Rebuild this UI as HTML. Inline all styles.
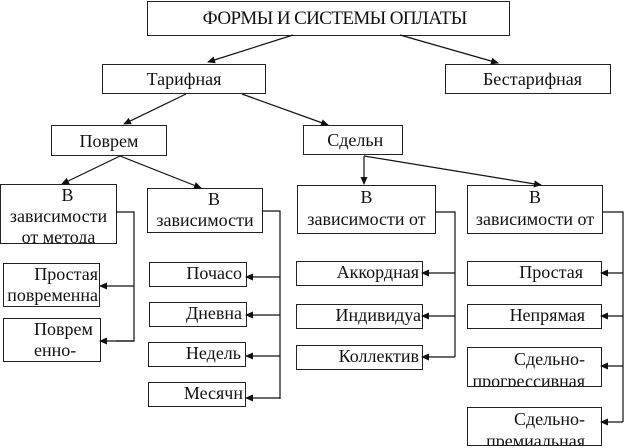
<!DOCTYPE html>
<html><head><meta charset="utf-8"><style>
body{margin:0;width:626px;height:448px;background:#fff;position:relative;overflow:hidden;font-family:"Liberation Serif","DejaVu Serif",serif;color:#111}
.b{position:absolute;border:1px solid #222;box-sizing:border-box;background:#fff;overflow:hidden;font-size:18px;line-height:21px;white-space:nowrap}
.r{text-align:right;padding-right:4px}
.c{text-align:center}
svg{position:absolute;left:0;top:0;z-index:2}
</style></head><body>
<svg width="626" height="448">
<defs><marker id="a" markerWidth="8" markerHeight="8" refX="7" refY="4" orient="auto" markerUnits="userSpaceOnUse"><path d="M0,0.5 L8,4 L0,7.5z" fill="#111"/></marker></defs>
<g stroke="#111" stroke-width="1.2" fill="none">
<line x1="293" y1="35" x2="208" y2="62" marker-end="url(#a)"/>
<line x1="400" y1="35" x2="498" y2="63" marker-end="url(#a)"/>
<line x1="186" y1="94" x2="124" y2="124" marker-end="url(#a)"/>
<line x1="242" y1="94" x2="328" y2="125" marker-end="url(#a)"/>
<line x1="120" y1="156" x2="62" y2="184" marker-end="url(#a)"/>
<line x1="120" y1="156" x2="201" y2="188" marker-end="url(#a)"/>
<line x1="364" y1="156" x2="364" y2="184" marker-end="url(#a)"/>
<line x1="364" y1="156" x2="541" y2="185" marker-end="url(#a)"/>
<polyline points="116,212 134,212 134,341 116,341"/>
<line x1="134" y1="286" x2="100" y2="286" marker-end="url(#a)"/>
<line x1="134" y1="341" x2="100" y2="341" marker-end="url(#a)"/>
<polyline points="262,211 280,211 280,399"/>
<line x1="280" y1="277" x2="246" y2="277" marker-end="url(#a)"/>
<line x1="280" y1="315" x2="246" y2="315" marker-end="url(#a)"/>
<line x1="280" y1="356" x2="246" y2="356" marker-end="url(#a)"/>
<line x1="280" y1="398" x2="246" y2="398" marker-end="url(#a)"/>
<polyline points="435,212 455,212 455,357"/>
<line x1="455" y1="273" x2="422" y2="273" marker-end="url(#a)"/>
<line x1="455" y1="316" x2="422" y2="316" marker-end="url(#a)"/>
<line x1="455" y1="357" x2="422" y2="357" marker-end="url(#a)"/>
<polyline points="602,212 623,212 623,422"/>
<line x1="623" y1="273" x2="601" y2="273" marker-end="url(#a)"/>
<line x1="623" y1="316" x2="601" y2="316" marker-end="url(#a)"/>
<line x1="623" y1="366" x2="601" y2="366" marker-end="url(#a)"/>
<line x1="623" y1="422" x2="601" y2="422" marker-end="url(#a)"/>
</g></svg>
<div class="b c" style="left:147px;top:1px;width:363px;height:35px;line-height:33px;font-size:19px;letter-spacing:-0.6px">&nbsp;&nbsp;&nbsp;ФОРМЫ И СИСТЕМЫ ОПЛАТЫ</div>
<div class="b c" style="left:102px;top:64px;width:164px;height:30px;line-height:29px">Тарифная</div>
<div class="b c" style="left:445px;top:64px;width:166px;height:30px;line-height:29px">&nbsp;&nbsp;Бестарифная</div>
<div class="b c" style="left:51px;top:125px;width:116px;height:31px;line-height:30px">Поврем</div>
<div class="b c" style="left:303px;top:125px;width:100px;height:30px;line-height:29px">&nbsp;Сдельн</div>
<div class="b c" style="left:0;top:184px;width:117px;height:60px;line-height:21px">&nbsp;&nbsp;&nbsp;&nbsp;В<br>зависимости<br>от метода</div>
<div class="b c" style="left:147px;top:188px;width:116px;height:45px">&nbsp;&nbsp;&nbsp;&nbsp;В<br>зависимости</div>
<div class="b c" style="left:297px;top:185px;width:139px;height:49px;line-height:22px">В<br>зависимости от</div>
<div class="b c" style="left:467px;top:185px;width:136px;height:49px;line-height:22px">В<br>зависимости от</div>
<div class="b r" style="left:3px;top:263px;width:97px;height:44px;padding-right:1px">Простая<br>повременна</div>
<div class="b r" style="left:3px;top:318px;width:98px;height:44px;padding-right:2px;text-align:left;padding-left:30px">Поврем<br>енно-</div>
<div class="b r" style="left:149px;top:262px;width:98px;height:25px">Почасо</div>
<div class="b r" style="left:149px;top:302px;width:98px;height:25px">Дневна</div>
<div class="b r" style="left:148px;top:342px;width:98px;height:25px">Недель</div>
<div class="b r" style="left:148px;top:382px;width:98px;height:25px;padding-right:2px">Месячн</div>
<div class="b r" style="left:296px;top:261px;width:127px;height:25px;padding-right:3px">Аккордная</div>
<div class="b r" style="left:296px;top:304px;width:127px;height:25px;padding-right:1px">Индивидуа</div>
<div class="b r" style="left:296px;top:345px;width:127px;height:25px;padding-right:3px">Коллектив</div>
<div class="b r" style="left:467px;top:261px;width:135px;height:25px;padding-right:18px">Простая</div>
<div class="b r" style="left:467px;top:304px;width:135px;height:25px;padding-right:16px">Непрямая</div>
<div class="b r" style="left:467px;top:347px;width:135px;height:40px;padding-right:16px;line-height:22px">Сдельно-<br>прогрессивная</div>
<div class="b r" style="left:467px;top:407px;width:135px;height:39px;padding-right:16px;line-height:22px">Сдельно-<br>премиальная</div>
</body></html>
